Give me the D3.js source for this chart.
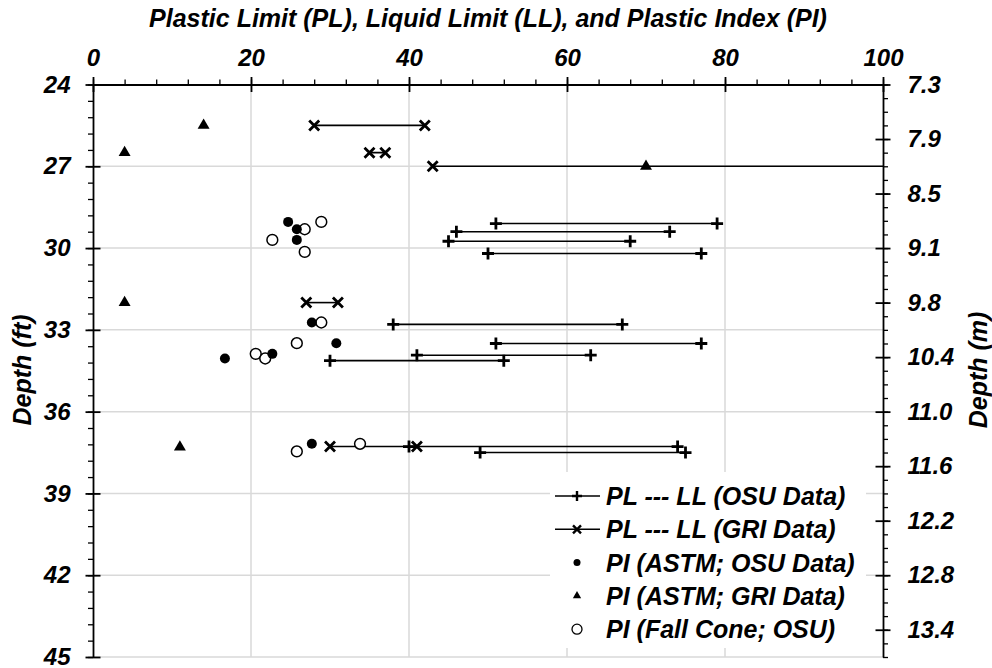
<!DOCTYPE html>
<html>
<head>
<meta charset="utf-8">
<script src="https://cdn.jsdelivr.net/npm/d3@7"></script>
<style>
    body { margin: 0; background: #fff; }
    text { font-family: "Liberation Sans", Arial, sans-serif; font-weight: bold; font-style: italic; fill: #000; }
</style>
</head>
<body>
<div id="chart"></div>
<script>
// PL --- LL, OSU data
const osuDepth = [29.1, 29.4, 29.75, 30.2, 32.8, 33.5, 33.93, 34.13, 37.28, 37.5];
const osuPL    = [51, 46, 45, 50, 38, 51, 41, 30, 40, 49];
const osuLL    = [79, 73, 68, 77, 67, 77, 63, 52, 74, 75];

// PL --- LL, GRI data
const griDepth = [25.5, 26.5, 27.0, 32.0, 37.28];
const griPL    = [28, 35, 43, 27, 30];
const griLL    = [42, 37, 113, 31, 41];

// PI (ASTM; OSU data)
const piOsuDepth = [29.04, 29.31, 29.7, 32.73, 33.49, 34.05, 33.88, 37.18];
const piOsu      = [24.7, 25.8, 25.8, 27.7, 30.8, 16.7, 22.7, 27.7];

// PI (ASTM; GRI data)
const piGriDepth = [25.5, 26.5, 27.0, 32.0, 37.3];
const piGri      = [14, 4, 70, 4, 11];

// PI (Fall cone; OSU)
const piConeDepth = [29.31, 29.04, 29.7, 30.14, 32.73, 33.49, 33.88, 34.05, 37.46, 37.18];
const piCone      = [26.8, 28.9, 22.7, 26.8, 28.9, 25.8, 20.6, 21.8, 25.8, 33.8];

const xTicks = [0, 20, 40, 60, 80, 100];
const ftTicks = [24, 27, 30, 33, 36, 39, 42, 45];
const mTicksFt = [24, 26, 28, 30, 32, 34, 36, 38, 40, 42, 44];

const legendLabels = [
    "PL --- LL (OSU Data)",
    "PL --- LL (GRI Data)",
    "PI (ASTM; OSU Data)",
    "PI (ASTM; GRI Data)",
    "PI (Fall Cone; OSU)"
];

const W = 992, H = 668;
const margin = {left: 93, right: 109, top: 84.5, bottom: 11};
const width = W - margin.left - margin.right;
const height = H - margin.top - margin.bottom;

const svg = d3.select("#chart").append("svg")
    .attr("width", W)
    .attr("height", H);

const g = svg.append("g")
    .attr("transform", `translate(${margin.left}, ${margin.top})`);

const x = d3.scaleLinear().domain([0, 100]).range([0, width]);
const y = d3.scaleLinear().domain([24, 45]).range([0, height]);

g.append("clipPath").attr("id", "plotClip")
    .append("rect").attr("width", width).attr("height", height);

// gridlines
g.append("g").selectAll("line")
    .data(xTicks.slice(1, -1))
    .join("line")
    .attr("x1", d => x(d)).attr("x2", d => x(d))
    .attr("y1", 0).attr("y2", height)
    .attr("stroke", "#d9d9d9").attr("stroke-width", 1.5);

g.append("g").selectAll("line")
    .data(ftTicks.slice(1))
    .join("line")
    .attr("x1", 0).attr("x2", width)
    .attr("y1", d => y(d)).attr("y2", d => y(d))
    .attr("stroke", "#d9d9d9").attr("stroke-width", 1.5);

// axes
function styleAxis(sel)
{
    sel.select(".domain").attr("stroke", "#000").attr("stroke-width", 1.8);
    sel.selectAll(".tick line").attr("stroke", "#000").attr("stroke-width", 1.8);
    sel.selectAll(".tick text").attr("font-size", 24);
}

function minorStyle(sel)
{
    sel.select(".domain").remove();
    sel.selectAll("line").attr("stroke", "#000").attr("stroke-width", 1.3);
}

// minor ticks first
g.append("g")
    .call(d3.axisTop(x).tickValues(d3.range(0, 101, 4)).tickFormat("").tickSize(5))
    .call(minorStyle);
g.append("g")
    .call(d3.axisLeft(y).tickValues(d3.range(24, 45.01, 0.6)).tickFormat("").tickSize(5))
    .call(minorStyle);
g.append("g")
    .attr("transform", `translate(${width}, 0)`)
    .call(d3.axisRight(y).tickValues(d3.range(24, 45.01, 0.5)).tickFormat("").tickSize(5))
    .call(minorStyle);

const topAxis = g.append("g")
    .call(d3.axisTop(x).tickValues(xTicks).tickSize(7.5).tickSizeOuter(0).tickPadding(11))
    .call(styleAxis);
topAxis.selectAll(".tick line").attr("y2", 7.5).attr("y1", -7.5);

const leftAxis = g.append("g")
    .call(d3.axisLeft(y).tickValues(ftTicks).tickSize(7.5).tickSizeOuter(0).tickPadding(15))
    .call(styleAxis);
leftAxis.selectAll(".tick line").attr("x2", 7.5).attr("x1", -7.5);

const rightAxis = g.append("g")
    .attr("transform", `translate(${width}, 0)`)
    .call(d3.axisRight(y).tickValues(mTicksFt).tickSize(7.5).tickSizeOuter(0).tickPadding(17)
        .tickFormat(d => d3.format(".1f")(Math.round(d * 0.3048 * 100) / 100)))
    .call(styleAxis);
rightAxis.selectAll(".tick line").attr("x2", 7.5).attr("x1", -7.5);

// axis titles
svg.append("text")
    .attr("x", margin.left + width / 2)
    .attr("y", 27)
    .attr("text-anchor", "middle")
    .attr("font-size", 25)
    .text("Plastic Limit (PL), Liquid Limit (LL), and Plastic Index (PI)");

svg.append("text")
    .attr("transform", `translate(22, 370) rotate(-90)`)
    .attr("text-anchor", "middle")
    .attr("dominant-baseline", "central")
    .attr("font-size", 25)
    .text("Depth (ft)");

svg.append("text")
    .attr("transform", `translate(978, 370) rotate(-90)`)
    .attr("text-anchor", "middle")
    .attr("dominant-baseline", "central")
    .attr("font-size", 25)
    .text("Depth (m)");

// markers
const plusPath = s => `M${-s},0H${s}M0,${-s}V${s}`;
const crossPath = s => `M${-s},${-s}L${s},${s}M${-s},${s}L${s},${-s}`;
const triPath = d3.symbol().type(d3.symbolTriangle);

const plot = g.append("g").attr("clip-path", "url(#plotClip)");

function drawRanges(depth, pl, ll, markPath)
{
    const idx = d3.range(depth.length);
    plot.append("g").selectAll("line")
        .data(idx).join("line")
        .attr("x1", i => x(pl[i])).attr("x2", i => x(ll[i]))
        .attr("y1", i => y(depth[i])).attr("y2", i => y(depth[i]))
        .attr("stroke", "#000").attr("stroke-width", 1.6);

    const pts = idx.flatMap(i => [[pl[i], depth[i]], [ll[i], depth[i]]]);
    plot.append("g").selectAll("path")
        .data(pts).join("path")
        .attr("transform", d => `translate(${x(d[0])}, ${y(d[1])})`)
        .attr("d", markPath)
        .attr("stroke", "#000").attr("stroke-width", 2.8).attr("fill", "none");
}

drawRanges(osuDepth, osuPL, osuLL, plusPath(6));
drawRanges(griDepth, griPL, griLL, crossPath(5));

plot.append("g").selectAll("circle")
    .data(d3.range(piCone.length)).join("circle")
    .attr("cx", i => x(piCone[i])).attr("cy", i => y(piConeDepth[i]))
    .attr("r", 5.4)
    .attr("fill", "#fff").attr("stroke", "#000").attr("stroke-width", 1.5);

plot.append("g").selectAll("circle")
    .data(d3.range(piOsu.length)).join("circle")
    .attr("cx", i => x(piOsu[i])).attr("cy", i => y(piOsuDepth[i]))
    .attr("r", 5)
    .attr("fill", "#000");

plot.append("g").selectAll("path")
    .data(d3.range(piGri.length)).join("path")
    .attr("transform", i => `translate(${x(piGri[i])}, ${y(piGriDepth[i])})`)
    .attr("d", triPath.size(62)())
    .attr("fill", "#000");

// legend
const legend = svg.append("g").attr("class", "legend");
legend.append("rect")
    .attr("x", 550).attr("y", 472)
    .attr("width", 316).attr("height", 176)
    .attr("fill", "#fff");

const rowY = i => 496 + i * 33.3;
const mx = 577;

legend.selectAll("text")
    .data(legendLabels).join("text")
    .attr("x", 606)
    .attr("y", (d, i) => rowY(i))
    .attr("dominant-baseline", "central")
    .attr("font-size", 25)
    .text(d => d);

[0, 1].forEach(i => {
    legend.append("line")
        .attr("x1", 555).attr("x2", 600)
        .attr("y1", rowY(i)).attr("y2", rowY(i))
        .attr("stroke", "#000").attr("stroke-width", 1.5);
    legend.append("path")
        .attr("transform", `translate(${mx}, ${rowY(i)})`)
        .attr("d", i === 0 ? plusPath(5) : crossPath(4))
        .attr("stroke", "#000").attr("stroke-width", 2.4);
});
legend.append("circle").attr("cx", mx).attr("cy", rowY(2)).attr("r", 3.5).attr("fill", "#000");
legend.append("path")
    .attr("transform", `translate(${mx}, ${rowY(3)})`)
    .attr("d", triPath.size(30)()).attr("fill", "#000");
legend.append("circle").attr("cx", mx).attr("cy", rowY(4)).attr("r", 5)
    .attr("fill", "#fff").attr("stroke", "#000").attr("stroke-width", 1.3);
</script>
</body>
</html>
